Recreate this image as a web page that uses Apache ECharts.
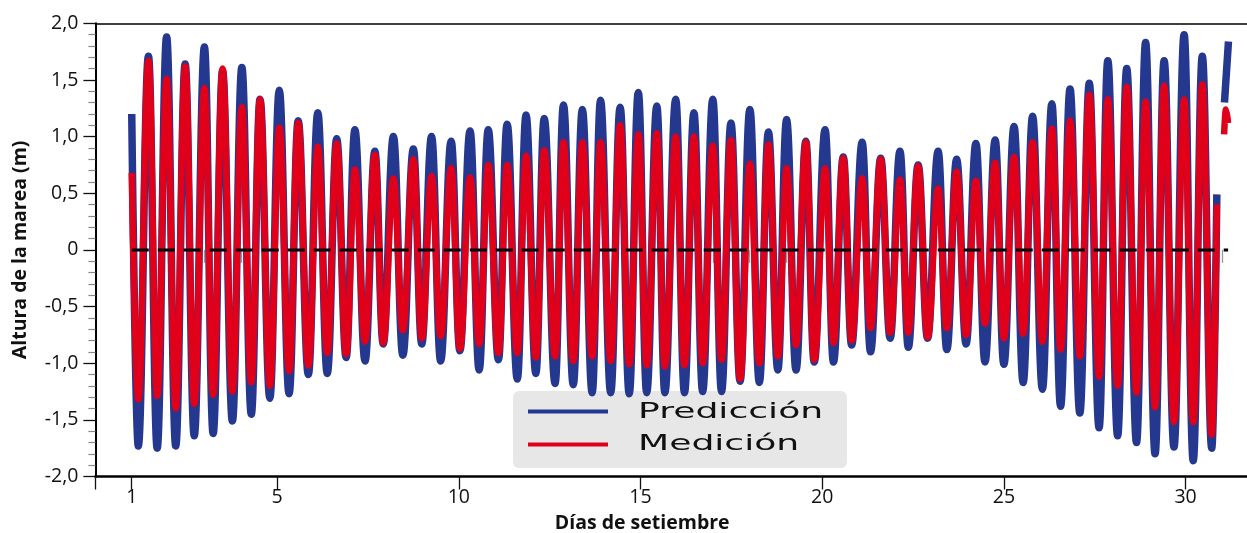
<!DOCTYPE html>
<html>
<head>
<meta charset="utf-8">
<script src="https://cdn.jsdelivr.net/npm/echarts@6/dist/echarts.min.js"></script>
<style>
html, body { margin: 0; padding: 0; background: #ffffff; }
#chart { width: 1247px; height: 533px; }
</style>
</head>
<body>
<div id="chart"></div>
<script>
// Successive high and low waters of the September record (day of month)
const extremeDays = [
  1.00,
  1.18, 1.46, 1.70, 1.96, 2.21, 2.47, 2.72, 3.00, 3.24, 3.50,
  3.77, 4.03, 4.29, 4.53, 4.80, 5.06, 5.33, 5.58, 5.86, 6.12,
  6.38, 6.64, 6.90, 7.14, 7.42, 7.69, 7.92, 8.20, 8.46, 8.75,
  8.98, 9.25, 9.50, 9.79, 10.03, 10.31, 10.56, 10.81, 11.09, 11.33,
  11.61, 11.85, 12.12, 12.35, 12.65, 12.88, 13.15, 13.40, 13.67, 13.90,
  14.18, 14.44, 14.69, 14.94, 15.17, 15.45, 15.67, 15.97, 16.21, 16.47,
  16.71, 16.99, 17.23, 17.49, 17.74, 18.01, 18.27, 18.52, 18.78, 19.02,
  19.28, 19.55, 19.78, 20.08, 20.31, 20.58, 20.81, 21.10, 21.33, 21.61,
  21.87, 22.14, 22.37, 22.64, 22.90, 23.19, 23.43, 23.70, 23.96, 24.23,
  24.48, 24.76, 25.00, 25.28, 25.53, 25.79, 26.06, 26.32, 26.56, 26.82,
  27.09, 27.35, 27.62, 27.86, 28.13, 28.38, 28.65, 28.90, 29.16, 29.41,
  29.68, 29.96, 30.21, 30.46, 30.72, 30.86
];

// Predicted tide height (m) at each extreme
const predicted = [
  1.20,
  -1.73, 1.71, -1.75, 1.88, -1.73, 1.64, -1.64, 1.79, -1.62, 1.58,
  -1.51, 1.61, -1.45, 1.33, -1.31, 1.41, -1.27, 1.14, -1.10, 1.21,
  -1.09, 0.98, -0.95, 1.06, -0.98, 0.87, -0.83, 1.00, -0.93, 0.89,
  -0.83, 1.00, -0.98, 0.96, -0.89, 1.05, -1.06, 1.06, -0.97, 1.11,
  -1.14, 1.19, -1.09, 1.16, -1.18, 1.28, -1.19, 1.24, -1.26, 1.32,
  -1.26, 1.26, -1.27, 1.39, -1.26, 1.27, -1.26, 1.33, -1.26, 1.21,
  -1.25, 1.33, -1.25, 1.12, -1.16, 1.24, -1.17, 1.04, -1.06, 1.15,
  -1.06, 0.96, -0.99, 1.06, -0.99, 0.82, -0.84, 0.95, -0.90, 0.81,
  -0.78, 0.87, -0.86, 0.75, -0.78, 0.87, -0.88, 0.80, -0.83, 0.94,
  -0.99, 0.97, -1.01, 1.09, -1.17, 1.18, -1.23, 1.29, -1.38, 1.42,
  -1.44, 1.47, -1.57, 1.67, -1.64, 1.60, -1.70, 1.83, -1.80, 1.67,
  -1.74, 1.90, -1.86, 1.71, -1.75, 0.49
];

// Measured tide height (m) at each extreme
const measured = [
  0.68,
  -1.32, 1.67, -1.29, 1.51, -1.40, 1.62, -1.36, 1.43, -1.28, 1.60,
  -1.25, 1.26, -1.17, 1.33, -1.20, 1.08, -1.07, 1.12, -1.02, 0.91,
  -0.91, 0.94, -0.92, 0.71, -0.81, 0.84, -0.82, 0.63, -0.71, 0.80,
  -0.78, 0.65, -0.76, 0.72, -0.87, 0.64, -0.83, 0.75, -0.91, 0.75,
  -0.91, 0.83, -0.95, 0.88, -0.94, 0.95, -0.98, 0.95, -0.94, 0.95,
  -0.98, 1.10, -1.01, 1.02, -1.02, 1.03, -1.03, 1.00, -1.02, 1.00,
  -1.00, 0.92, -0.97, 0.97, -1.14, 0.76, -1.00, 0.93, -0.94, 0.72,
  -0.84, 0.95, -0.97, 0.72, -0.82, 0.81, -0.80, 0.63, -0.69, 0.80,
  -0.73, 0.62, -0.73, 0.74, -0.77, 0.54, -0.69, 0.69, -0.75, 0.61,
  -0.65, 0.77, -0.78, 0.82, -0.74, 0.95, -0.81, 1.07, -0.88, 1.14,
  -0.94, 1.37, -1.12, 1.33, -1.20, 1.44, -1.26, 1.31, -1.39, 1.45,
  -1.52, 1.33, -1.52, 1.46, -1.63, 0.40
];

// Readings after the short gap at the end of the month
const gapDay = 30.95;
const predictedTailDays = [31.07, 31.18];
const predictedTail = [1.30, 1.84];
const measuredTailDays = [31.06, 31.11, 31.17];
const measuredTail = [1.02, 1.24, 1.12];

// Mean-level reference line
const zeroLineDays = [1, 31.17];
const zeroLineLevel = [0, 0];

const seriesNames = ['Predicción', 'Medición'];
const dayLabels = [1, 5, 10, 15, 20, 25, 30];
const dayTicksMajor = [0, 1, 5, 10, 15, 20, 25, 30];
const dayTicksMinor = [2, 3, 4, 6, 7, 8, 9, 11, 12, 13, 14, 16, 17, 18, 19,
                       21, 22, 23, 24, 26, 27, 28, 29, 31];

const BLUE = '#25388f';
const RED = '#e0001a';
const FONT = 'Open Sans';
const X_MAX = 31.69;

function pairs(xs, ys) {
  return xs.map(function (x, i) { return [x, ys[i]]; });
}

const predData = pairs(extremeDays, predicted)
  .concat([[gapDay, null]], pairs(predictedTailDays, predictedTail));
const measData = pairs(extremeDays, measured)
  .concat([[gapDay, null]], pairs(measuredTailDays, measuredTail));
const zeroData = pairs(zeroLineDays, zeroLineLevel);

const chart = echarts.init(document.getElementById('chart'), null, { renderer: 'canvas' });

const legendX = 513, legendY = 391;

chart.setOption({
  animation: false,
  backgroundColor: '#ffffff',
  grid: { left: 95.4, right: 0, top: 23.3, bottom: 56.5, outerBoundsMode: 'none', containLabel: false },
  xAxis: [
    {
      type: 'value', min: 0, max: X_MAX, interval: 1, position: 'bottom',
      axisLine: { show: true, onZero: false, lineStyle: { color: '#000', width: 2.5 } },
      axisTick: { show: true, length: 13, customValues: dayTicksMajor,
                  lineStyle: { color: '#111', width: 1.3 } },
      axisLabel: { customValues: dayLabels, fontSize: 19.5, fontFamily: FONT,
                   color: '#111', margin: 11 },
      splitLine: { show: false },
      name: 'Días de setiembre', nameLocation: 'middle', nameGap: 37,
      nameTextStyle: { fontFamily: FONT, fontWeight: 'bold', fontSize: 19.5,
                       color: '#111', padding: [0, 58, 0, 0] }
    },
    {
      type: 'value', min: 0, max: X_MAX, interval: 1, position: 'bottom',
      axisLine: { show: false },
      axisTick: { show: true, length: 13, customValues: dayTicksMinor,
                  lineStyle: { color: '#9a9a9a', width: 1.3 } },
      axisLabel: { show: false },
      splitLine: { show: false }
    },
    {
      type: 'value', min: 0, max: X_MAX, position: 'top',
      axisLine: { show: true, onZero: false, lineStyle: { color: '#000', width: 1.5 } },
      axisTick: { show: false },
      axisLabel: { show: false },
      splitLine: { show: false }
    }
  ],
  yAxis: {
    type: 'value', min: -2, max: 2, interval: 0.5,
    axisLine: { show: true, onZero: false, lineStyle: { color: '#000', width: 2 } },
    axisTick: { show: true, length: 12, lineStyle: { color: '#111', width: 1.3 } },
    minorTick: { show: true, splitNumber: 5, length: 7, lineStyle: { color: '#8a8a8a', width: 1.2 } },
    axisLabel: {
      fontSize: 19.5, fontFamily: FONT, color: '#111', margin: 17,
      formatter: function (v) { return v === 0 ? '0' : v.toFixed(1).replace('.', ','); }
    },
    splitLine: { show: false },
    name: 'Altura de la marea (m)', nameLocation: 'middle', nameGap: 65,
    nameTextStyle: { fontFamily: FONT, fontWeight: 'bold', fontSize: 19.5, color: '#111' }
  },
  series: [
    {
      name: seriesNames[0], type: 'line', data: predData,
      smooth: 0.4, smoothMonotone: 'x', showSymbol: false, connectNulls: false,
      lineStyle: { color: BLUE, width: 7.5 }, itemStyle: { color: BLUE },
      z: 2
    },
    {
      name: seriesNames[1], type: 'line', data: measData,
      smooth: 0.4, smoothMonotone: 'x', showSymbol: false, connectNulls: false,
      lineStyle: { color: RED, width: 6.5 }, itemStyle: { color: RED },
      z: 3
    },
    {
      type: 'line', data: zeroData, showSymbol: false, silent: true,
      lineStyle: { color: '#000', width: 3, type: [17, 9] },
      z: 4
    }
  ],
  graphic: [
    {
      type: 'group', left: legendX, top: legendY, z: 100,
      children: [
        { type: 'rect', shape: { x: 0, y: 0, width: 334, height: 77, r: 6 },
          style: { fill: 'rgba(226,226,226,0.82)' } },
        { type: 'line', shape: { x1: 15, y1: 20.5, x2: 95, y2: 20.5 },
          style: { stroke: BLUE, lineWidth: 4 } },
        { type: 'line', shape: { x1: 15, y1: 53.5, x2: 95, y2: 53.5 },
          style: { stroke: RED, lineWidth: 4 } },
        { type: 'text', x: 125, y: 21.5, scaleX: 1.72,
          style: { text: seriesNames[0], x: 0, y: 0, fill: '#111',
                   font: '21px "DejaVu Sans"', verticalAlign: 'middle', align: 'left' } },
        { type: 'text', x: 125, y: 54, scaleX: 1.72,
          style: { text: seriesNames[1], x: 0, y: 0, fill: '#111',
                   font: '21px "DejaVu Sans"', verticalAlign: 'middle', align: 'left' } }
      ]
    }
  ]
});
</script>
</body>
</html>
